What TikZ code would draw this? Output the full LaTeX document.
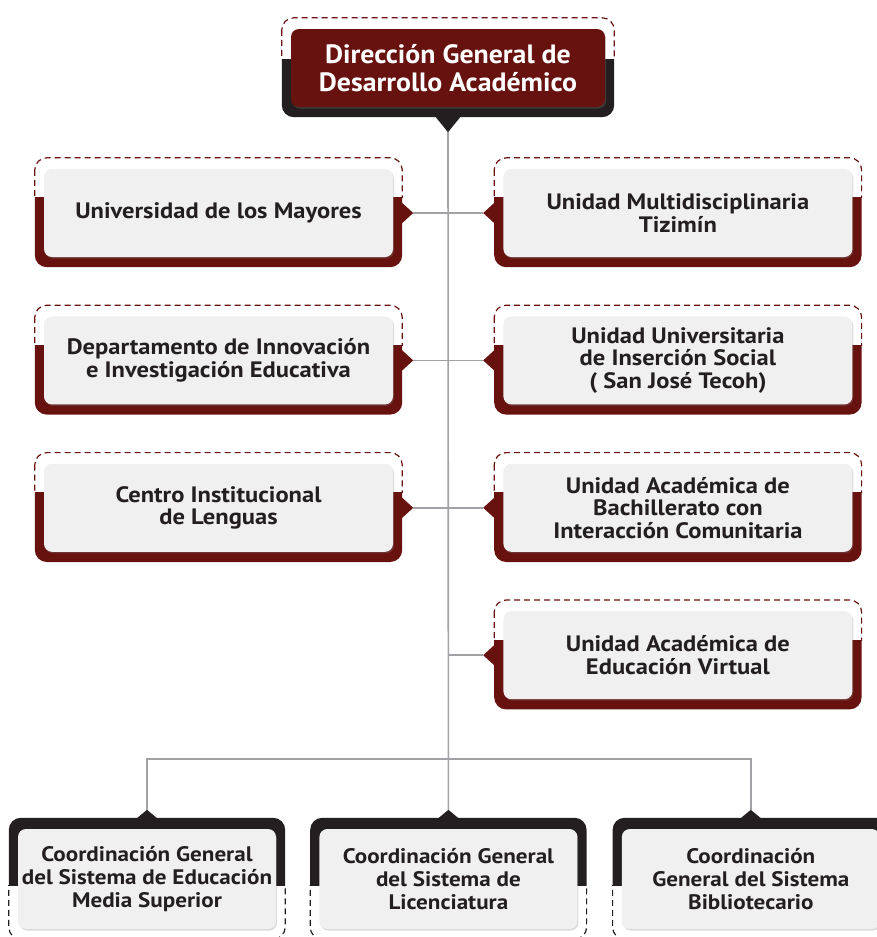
\documentclass[tikz,border=0pt]{standalone}
\usepackage{fontspec}
\setmainfont{PT Sans}
\newfontfamily\cardfamily[FakeStretch=1.1]{PT Sans}
\newfontfamily\headfamily[FakeStretch=1.05]{PT Sans}
\usepackage{tikz}
\usetikzlibrary{positioning,calc,backgrounds,shadows}

\definecolor{wine}{HTML}{67120F}
\definecolor{inkdark}{HTML}{231F20}
\definecolor{cardgray}{HTML}{F0F0F0}
\definecolor{linkgray}{HTML}{A0A2A5}

\newcommand{\dgfont}{\headfamily\fontsize{26.5}{28}\selectfont\bfseries}
\newcommand{\unitfont}{\cardfamily\fontsize{22.3}{22.5}\selectfont\bfseries}
\newcommand{\coordfont}{\cardfamily\fontsize{21}{23}\selectfont\bfseries}

% frame round a card: #1 node, #2 style above the cut, #3 style below it, #4 cut under card top
\newcommand{\cardframe}[4]{%
  \coordinate (#1-nw) at ($(#1.north west)+(-9,-11)$);
  \coordinate (#1-se) at ($(#1.south east)+(9,10)$);
  \coordinate (#1-cut) at ($(#1.north east)+(12,#4)$);
  \begin{scope}
    \clip ($(#1-nw)+(-3,-3)$) rectangle (#1-cut);
    \path[#2] (#1-nw) rectangle (#1-se);
  \end{scope}
  \begin{scope}
    \clip ($(#1-nw |- #1-cut)+(-3,0)$) rectangle ($(#1-se)+(3,3)$);
    \path[#3] (#1-nw) rectangle (#1-se);
  \end{scope}}

\begin{document}
\begin{tikzpicture}[x=1pt,y=-1pt,node distance=59pt and 110pt]
  \tikzstyle{card}=[rounded corners=8pt,fill=cardgray,text=inkdark,align=center,inner sep=0pt,
    drop shadow={shadow xshift=1pt,shadow yshift=-1.5pt,opacity=0.3}]
  \tikzstyle{unit}=[card,font=\unitfont,minimum width=349pt,minimum height=88pt]
  \tikzstyle{coord}=[card,font=\coordfont,minimum width=258pt,minimum height=100pt]
  \tikzstyle{head}=[card,fill=wine,text=white,font=\dgfont,minimum width=314pt,minimum height=78pt]
  \tikzstyle{dashwine}=[draw=wine,line width=1.2pt,dash pattern=on 6pt off 4pt,rounded corners=12pt]
  \tikzstyle{dashdark}=[draw=inkdark,line width=1.2pt,dash pattern=on 6pt off 4pt,rounded corners=12pt]
  \tikzstyle{solidwine}=[fill=wine,rounded corners=12pt]
  \tikzstyle{soliddark}=[fill=inkdark,rounded corners=12pt]
  \tikzstyle{link}=[draw=linkgray,line width=1.6pt]
  \useasboundingbox (0,0) rectangle (877,937);

  % head
  \node[head] (dg) at (448,68) {Dirección General de\\Desarrollo Académico};

  % units on both sides
  \node[unit] (um) at (218.5,213) {Universidad de los Mayores};
  \node[unit,right=of um] (umt) {Unidad Multidisciplinaria\\Tizimín};
  \node[unit,below=of um] (dii) {Departamento de Innovación\\e Investigación Educativa};
  \node[unit,right=of dii] (uis) {Unidad Universitaria\\de Inserción Social\\( San José Tecoh)};
  \node[unit,below=of dii] (cil) {Centro Institucional\\de Lenguas};
  \node[unit,right=of cil] (uab) {Unidad Académica de\\Bachillerato con\\Interacción Comunitaria};
  \node[unit,below=of uab] (uev) {Unidad Académica de\\Educación Virtual};

  % coordinations
  \node[coord] (cms) at (147,879) {Coordinación General\\del Sistema de Educación\\Media Superior};
  \node[coord,right=43pt of cms] (csl) {Coordinación General\\del Sistema de\\Licenciatura};
  \node[coord,right=44pt of csl] (csb) {Coordinación\\General del Sistema\\Bibliotecario};

  \begin{scope}[on background layer]
    \cardframe{dg}{dashwine}{soliddark}{31}
    \foreach \n in {um,umt,dii,uis,cil,uab,uev}
      {\cardframe{\n}{dashwine}{solidwine}{29}}
    \foreach \n in {cms,csl,csb}
      {\cardframe{\n}{soliddark}{dashdark}{57}}
  \end{scope}

  % pointers
  \fill[inkdark] ($(dg.south)+(-13,9)$) -- ($(dg.south)+(0,25)$) coordinate (dg-tip)
    -- ($(dg.south)+(13,9)$) -- cycle;
  \foreach \n in {um,dii,cil}
    \fill[wine] ($(\n.east)+(8,-11)$) -- ($(\n.east)+(20,0)$) coordinate (\n-tip)
      -- ($(\n.east)+(8,11)$) -- cycle;
  \foreach \n in {umt,uis,uab,uev}
    \fill[wine] ($(\n.west)+(-8,-11)$) -- ($(\n.west)+(-20,0)$) coordinate (\n-tip)
      -- ($(\n.west)+(-8,11)$) -- cycle;
  \foreach \n in {cms,csl,csb}
    \fill[inkdark] ($(\n.north)+(-12,-9)$) -- ($(\n.north)+(0,-19)$) coordinate (\n-tip)
      -- ($(\n.north)+(12,-9)$) -- cycle;

  % connectors
  \draw[link] (dg-tip) -- (csl-tip);
  \draw[link] (um-tip) -- (umt-tip);
  \draw[link] (dii-tip) -- (uis-tip);
  \draw[link] (cil-tip) -- (uab-tip);
  \draw[link] (dg-tip |- uev-tip) -- (uev-tip);
  \draw[link] (cms-tip) -- ++(0,-51) -| (csb-tip);
\end{tikzpicture}
\end{document}
